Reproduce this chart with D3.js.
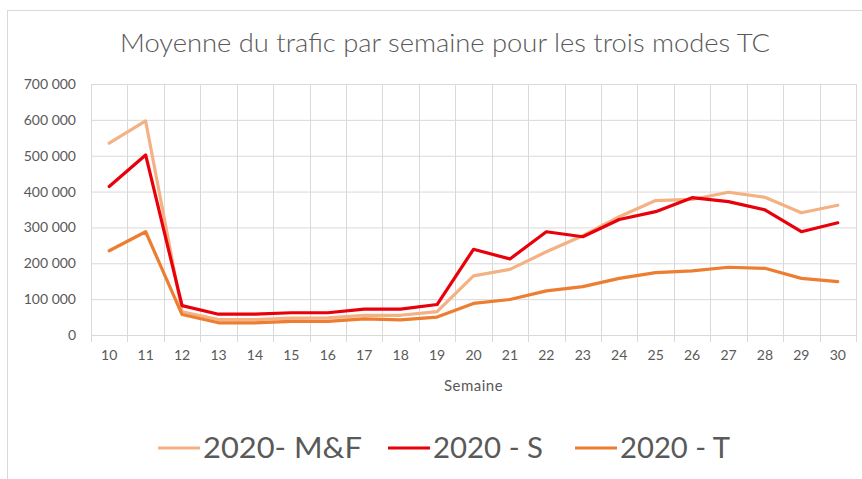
<!DOCTYPE html>
<html>
<head>
<meta charset="utf-8">
<script src="https://cdn.jsdelivr.net/npm/d3@7"></script>
<style>
  body { margin: 0; background: #fff; }
  text { font-family: Lato, "Open Sans", sans-serif; fill: #595959; }
</style>
</head>
<body>
<svg class="chart" width="862" height="479"></svg>
<script>
// weeks of 2020
var weeks = [10, 11, 12, 13, 14, 15, 16, 17, 18, 19, 20, 21, 22, 23, 24, 25, 26, 27, 28, 29, 30];

var seriesNames = ["2020- M&F", "2020 - S", "2020 - T"];
var seriesColors = ["#F4B183", "#E8000B", "#ED7D31"];

var valuesMF = [535000, 597000, 65000, 43000, 43000, 47000, 48000, 55000, 55000, 65000, 165000,
                183000, 232000, 277000, 330000, 375000, 378000, 398000, 384000, 341000, 362000];
var valuesS  = [414000, 502000, 82000, 58000, 58000, 62000, 62000, 72000, 72000, 85000, 239000,
                212000, 288000, 274000, 322000, 344000, 383000, 372000, 349000, 288000, 313000];
var valuesT  = [235000, 288000, 57000, 34000, 34000, 38000, 38000, 45000, 42000, 50000, 88000,
                99000, 123000, 135000, 158000, 174000, 179000, 189000, 186000, 158000, 149000];

var yTicks = [0, 100000, 200000, 300000, 400000, 500000, 600000, 700000];

var svg = d3.select(".chart");
var width = +svg.attr("width");
var height = +svg.attr("height");

var margin = {left: 91, right: 6, top: 84, bottom: 144};

// outer frame
svg.append("rect")
    .attr("x", 7.5).attr("y", 10.5)
    .attr("width", width).attr("height", height)
    .attr("fill", "none")
    .attr("stroke", "#d9d9d9");

var x = d3.scaleBand()
    .domain(weeks)
    .range([margin.left, width - margin.right]);

var y = d3.scaleLinear()
    .domain([0, 700000])
    .range([height - margin.bottom, margin.top]);

var fmt = function(d) { return d3.format(",")(d).replace(/,/g, " "); };

// horizontal grid + y labels
var yAxis = svg.append("g")
    .attr("transform", "translate(" + margin.left + ",0)")
    .call(d3.axisLeft(y).tickValues(yTicks).tickFormat(fmt)
        .tickSize(-(width - margin.left - margin.right)).tickPadding(15));
yAxis.select(".domain").remove();
yAxis.selectAll("line").attr("stroke", "#d9d9d9");
yAxis.selectAll("text").style("font-size", "14px").attr("fill", "#595959");

// vertical grid lines at band boundaries
var bounds = weeks.map(function(d) { return x(d); }).concat([x(weeks[weeks.length - 1]) + x.bandwidth()]);
svg.append("g")
    .attr("class", "vgrid")
    .selectAll("line")
    .data(bounds)
    .enter().append("line")
    .attr("x1", function(d) { return Math.round(d) + 0.5; })
    .attr("x2", function(d) { return Math.round(d) + 0.5; })
    .attr("y1", margin.top)
    .attr("y2", height - margin.bottom + 7)
    .attr("stroke", "#d9d9d9");

// x labels
var xAxis = svg.append("g")
    .attr("transform", "translate(0," + (height - margin.bottom) + ")")
    .call(d3.axisBottom(x).tickSize(0).tickPadding(15));
xAxis.select(".domain").remove();
xAxis.selectAll("text").style("font-size", "14px").attr("fill", "#595959");

svg.append("text")
    .attr("x", (margin.left + width - margin.right) / 2)
    .attr("y", 391)
    .attr("text-anchor", "middle")
    .style("font-size", "15px")
    .style("letter-spacing", "0.5px")
    .text("Semaine");

svg.append("text")
    .attr("x", 120)
    .attr("y", 52)
    .attr("textLength", 650)
    .attr("lengthAdjust", "spacingAndGlyphs")
    .style("font-size", "25px")
    .style("font-weight", 300)
    .text("Moyenne du trafic par semaine pour les trois modes TC");

var allSeries = [valuesMF, valuesS, valuesT];

var line = d3.line()
    .x(function(d, i) { return x(weeks[i]) + x.bandwidth() / 2; })
    .y(function(d) { return y(d); });

svg.append("g")
    .attr("class", "lines")
    .selectAll("path")
    .data(allSeries)
    .enter().append("path")
    .attr("d", line)
    .attr("fill", "none")
    .attr("stroke", function(d, i) { return seriesColors[i]; })
    .attr("stroke-width", 3.2)
    .attr("stroke-linejoin", "round")
    .attr("stroke-linecap", "round");

// legend
var legendX = [158, 388, 575];
var legendW = [159, 110, 110];
var legend = svg.append("g")
    .attr("class", "legend")
    .selectAll("g")
    .data(seriesNames)
    .enter().append("g")
    .attr("transform", function(d, i) { return "translate(" + legendX[i] + ",448)"; });

legend.append("line")
    .attr("x1", 0).attr("x2", 42)
    .attr("stroke", function(d, i) { return seriesColors[i]; })
    .attr("stroke-width", 3);

legend.append("text")
    .attr("x", 45)
    .attr("y", 10)
    .attr("textLength", function(d, i) { return legendW[i]; })
    .attr("lengthAdjust", "spacingAndGlyphs")
    .style("font-size", "29px")
    .text(function(d) { return d; });
</script>
</body>
</html>
